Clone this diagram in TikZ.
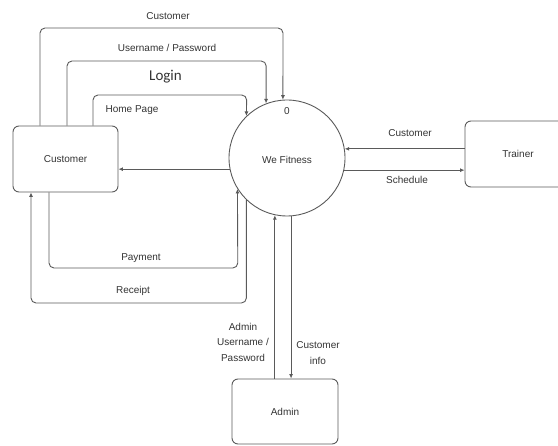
\documentclass[tikz,border=0pt]{standalone}
\usepackage{fontspec}
\setmainfont{Liberation Sans}
\newfontfamily\loginfont{Carlito}
\usetikzlibrary{arrows.meta}
\definecolor{ln}{HTML}{5A5A5A}
\definecolor{tx}{HTML}{333333}
\tikzset{
  ent/.style={draw=ln, line width=0.9pt, rounded corners=6pt, text=tx, font=\fontsize{10}{12}\selectfont},
  proc/.style={draw=ln, line width=0.9pt, circle, minimum size=116pt, inner sep=0pt, text=tx, font=\fontsize{10}{12}\selectfont},
  flow/.style={draw=ln, line width=0.9pt, rounded corners=5pt, -{Latex[length=4.5pt,width=4pt]}},
  lbl/.style={text=tx, font=\fontsize{10}{12}\selectfont, inner sep=1pt, align=center}
}
\begin{document}
\begin{tikzpicture}[x=1pt,y=-1pt]
\useasboundingbox (0,0) rectangle (558,446);
% entities
\node[ent, minimum width=105pt, minimum height=66pt] (cust) at (65.5,159) {Customer};
\node[ent, minimum width=106pt, minimum height=66pt] (trn) at (518,154) {Trainer};
\node[ent, minimum width=106pt, minimum height=65pt] (adm) at (285,411.5) {Admin};
\node[proc] (circ) at (287,158) {};
\node[lbl] (wf) at (287,160) {We Fitness};
\node[lbl] (zero) at (287,111) {0};
% helper coordinates
\coordinate (c1) at (40,0);
\coordinate (c1b) at (283,28);
\coordinate (u1) at (67,0);
\coordinate (u1b) at (266.2,61);
\coordinate (h1) at (93,0);
\coordinate (h1b) at (246.7,95);
\coordinate (p1) at (49,0);
\coordinate (p1b) at (237.8,268);
\coordinate (r1) at (31,303);
% top loops
\draw[flow] (cust.north -| c1) |- (c1b) -- (circ.94);
\draw[flow] (cust.north -| u1) |- (u1b) -- (circ.111);
\draw[flow] (cust.north -| h1) |- (h1b) -- (circ.134);
% middle
\draw[flow] (circ.191) -- (cust.east |- circ.191);
% bottom loops
\draw[flow] (cust.south -| p1) |- (p1b) -- (circ.212);
\draw[flow] (circ.226) |- (r1) -- (cust.south -| r1);
% trainer
\draw[flow] (trn.west |- circ.9) -- (circ.9);
\draw[flow] (circ.-12) -- (trn.west |- circ.-12);
% admin
\draw[flow] (adm.north -| circ.258) -- (circ.258);
\draw[flow] (circ.274) -- (adm.north -| circ.274);
% labels
\node[lbl] (l1) at (168,16) {Customer};
\node[lbl] (l2) at (167,48) {Username / Password};
\node[lbl, font=\loginfont\fontsize{15}{17}\selectfont] (l3) at (165.5,77) {Login};
\node[lbl] (l4) at (132,110) {Home Page};
\node[lbl] (l5) at (141,258) {Payment};
\node[lbl] (l6) at (133,291) {Receipt};
\node[lbl] (l7) at (410,133) {Customer};
\node[lbl] (l8) at (407,180) {Schedule};
\node[lbl, font=\fontsize{10}{15.5}\selectfont] (l9) at (243,342) {Admin\\Username /\\Password};
\node[lbl, font=\fontsize{10}{16}\selectfont] (l10) at (318,353) {Customer\\info};
\end{tikzpicture}
\end{document}
